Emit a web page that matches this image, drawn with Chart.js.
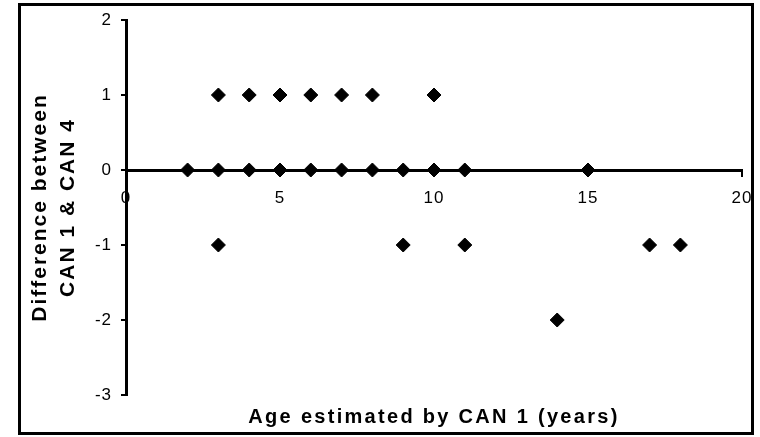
<!DOCTYPE html>
<html>
<head>
<meta charset="utf-8">
<script src="https://cdn.jsdelivr.net/npm/chart.js@4"></script>
<style>
  html, body { margin: 0; padding: 0; background: #fff; }
  #wrap { width: 760px; height: 437px; position: relative; }
</style>
</head>
<body>
<div id="wrap"><canvas id="c" width="760" height="437"></canvas></div>
<script>
// Data
const ageValues  = [2, 3, 4, 5, 6, 7, 8, 9, 10, 11, 15,  3, 4, 5, 6, 7, 8, 10,  3, 9, 11, 17, 18,  14];
const diffValues = [0, 0, 0, 0, 0, 0, 0, 0, 0,  0,  0,   1, 1, 1, 1, 1, 1, 1,  -1, -1, -1, -1, -1, -2];
const xTicks = [0, 5, 10, 15, 20];
const yTicks = [2, 1, 0, -1, -2, -3];
const xTitle = 'Age estimated by CAN 1 (years)';
const yTitle = ['Difference between', 'CAN 1 & CAN 4'];

const points = ageValues.map((a, i) => ({ x: a, y: diffValues[i] }));

const FONT = '"Liberation Sans", Arial, sans-serif';

// wrap a scale's drawing methods so each text kind gets its own letter spacing
function spaced(scale, labelSp, titleSp) {
  if (scale._spacedWrapped) return;
  scale._spacedWrapped = true;
  const dl = scale.drawLabels, dt = scale.drawTitle;
  scale.drawLabels = function (...a) {
    const c = this.ctx, p = c.letterSpacing;
    c.letterSpacing = labelSp; dl.apply(this, a); c.letterSpacing = p;
  };
  scale.drawTitle = function (...a) {
    const c = this.ctx, p = c.letterSpacing;
    c.letterSpacing = titleSp; dt.apply(this, a); c.letterSpacing = p;
  };
}

const spacingPlugin = {
  id: 'spacing',
  beforeDraw(chart) { chart.ctx.letterSpacing = '2.3px'; } // bottom title spacing
};
const framePlugin = {
  id: 'frame',
  afterDraw(chart) {
    const ctx = chart.ctx;
    ctx.save();
    ctx.letterSpacing = '0px';
    ctx.strokeStyle = '#000';
    ctx.lineWidth = 3;
    ctx.strokeRect(19.5, 4.5, 733, 429);
    ctx.restore();
  }
};

new Chart(document.getElementById('c'), {
  type: 'scatter',
  data: {
    datasets: [{
      data: points,
      pointStyle: 'rectRot',
      pointRadius: 7,
      pointHoverRadius: 7,
      pointBorderWidth: 1,
      backgroundColor: '#000',
      borderColor: '#000'
    }]
  },
  plugins: [spacingPlugin, framePlugin],
  options: {
    responsive: false,
    animation: false,
    events: [],
    layout: { padding: { top: 20, right: 18, bottom: 0, left: 0 } },
    plugins: {
      legend: { display: false },
      tooltip: { enabled: false },
      title: {
        display: true,
        text: xTitle,
        position: 'bottom',
        fullSize: false,
        color: '#000',
        font: { family: FONT, size: 20, weight: 'bold', lineHeight: 1.2 },
        padding: { top: 10, bottom: 8 }
      }
    },
    scales: {
      x: {
        type: 'linear',
        position: { y: 0 },
        min: 0, max: 20,
        afterBuildTicks(scale) { scale.ticks = xTicks.map(v => ({ value: v })); },
        afterFit(scale) {
          scale.height = 0; scale.paddingLeft = 0; scale.paddingRight = 0;
          spaced(scale, '1px', '0px');
        },
        grid: { drawOnChartArea: false, drawTicks: true, tickLength: 5, color: '#000', lineWidth: 2 },
        border: { display: true, color: '#000', width: 3 },
        ticks: { color: '#000', padding: 13, maxRotation: 0, autoSkip: false,
                 font: { family: FONT, size: 17, lineHeight: 1.2 } }
      },
      y: {
        type: 'linear',
        position: 'left',
        min: -3, max: 2,
        afterBuildTicks(scale) { scale.ticks = yTicks.map(v => ({ value: v })); },
        afterFit(scale) {
          scale.width = 126; scale.paddingTop = 0; scale.paddingBottom = 0;
          spaced(scale, '1px', '2px');
        },
        grid: { drawOnChartArea: false, drawTicks: true, tickLength: 5, color: '#000', lineWidth: 2 },
        border: { display: true, color: '#000', width: 3 },
        ticks: { color: '#000', padding: 9, autoSkip: false,
                 font: { family: FONT, size: 17, lineHeight: 1.2 } },
        title: {
          display: true,
          text: yTitle,
          color: '#000',
          font: { family: FONT, size: 21, weight: 'bold', lineHeight: 1.35 },
          padding: { top: 26, bottom: 0 }
        }
      }
    }
  }
});
</script>
</body>
</html>
